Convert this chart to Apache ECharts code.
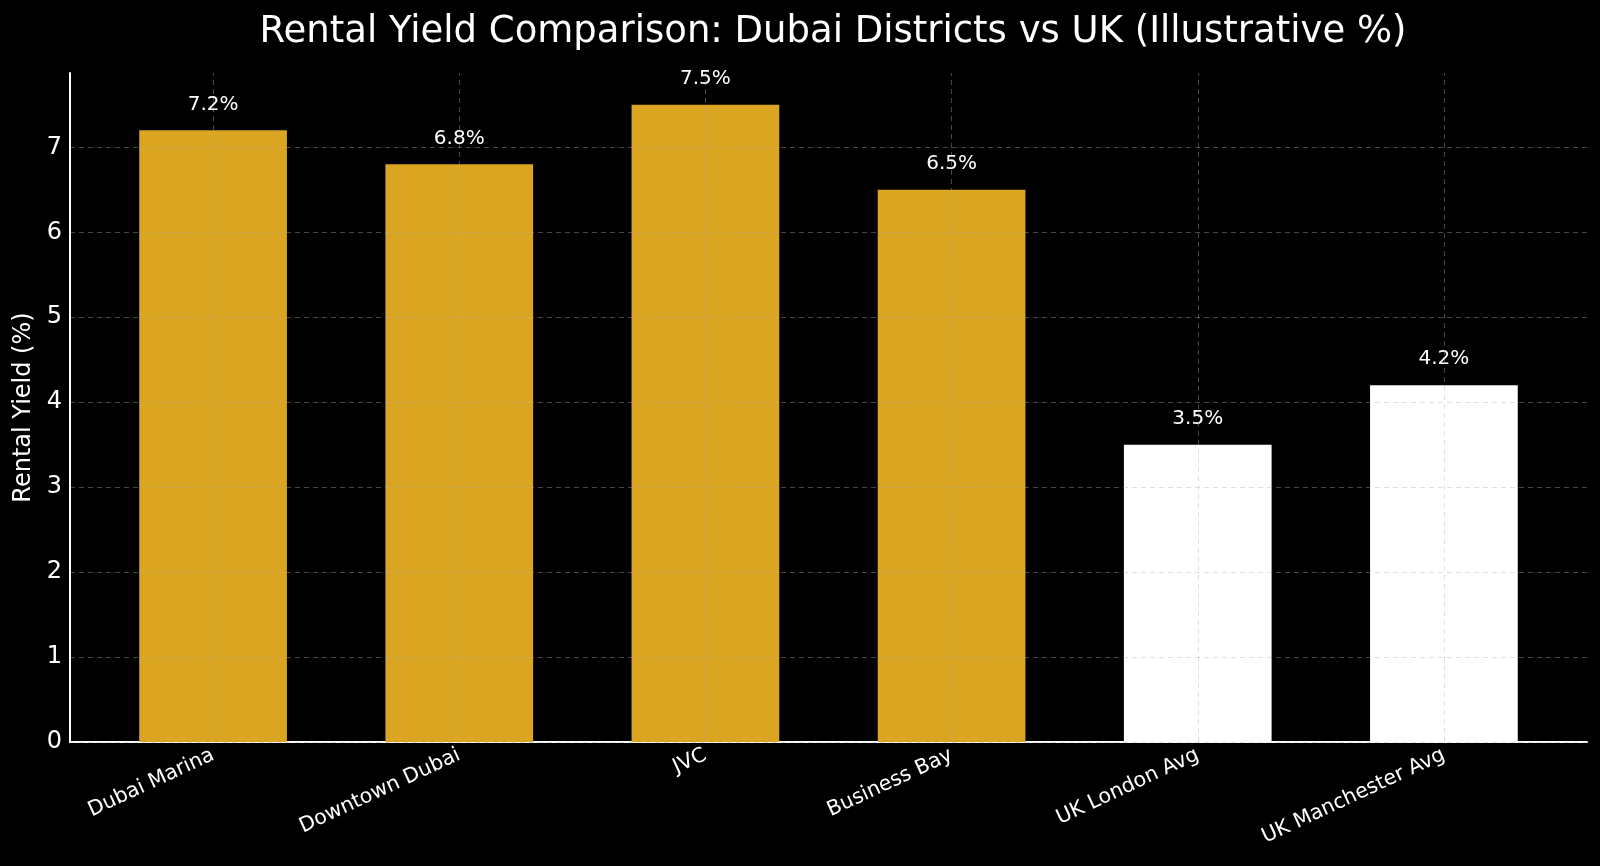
<!DOCTYPE html>
<html>
<head>
<meta charset="utf-8">
<script src="https://cdn.jsdelivr.net/npm/echarts@6/dist/echarts.min.js"></script>
<style>
  html, body { margin: 0; padding: 0; background: #000; }
  #chart { width: 1600px; height: 866px; }
</style>
</head>
<body>
<div id="chart"></div>
<script>
const categories = ["Dubai Marina", "Downtown Dubai", "JVC", "Business Bay", "UK London Avg", "UK Manchester Avg"];
const yields = [7.2, 6.8, 7.5, 6.5, 3.5, 4.2];
const regions = ["Dubai", "Dubai", "Dubai", "Dubai", "UK", "UK"];
const yTicks = [0, 1, 2, 3, 4, 5, 6, 7];

const chart = echarts.init(document.getElementById("chart"));

const font = "DejaVu Sans";
const gridColor = "rgba(176,176,176,0.4)";
const yMax = 7.875;

var option = {
  backgroundColor: "#000000",
  animation: false,
  textStyle: { fontFamily: font },
  title: {
    text: "Rental Yield Comparison: Dubai Districts vs UK (Illustrative %)",
    left: 828,
    textAlign: "center",
    top: 9,
    textStyle: { color: "#ffffff", fontSize: 37, fontWeight: "normal", fontFamily: font }
  },
  grid: [
    { left: 90, right: 33, top: 73, bottom: 124 },
    { left: 70, right: 13, top: 73, bottom: 124 }
  ],
  xAxis: [
    {
      type: "category",
      gridIndex: 0,
      data: categories,
      axisLine: { show: false },
      axisTick: { show: false },
      axisLabel: {
        color: "#ffffff",
        fontSize: 20.5,
        rotate: 25,
        margin: 12,
        fontFamily: font
      },
      splitLine: { show: false }
    },
    {
      type: "value",
      gridIndex: 1,
      min: 0,
      max: 1,
      axisLine: { show: true, lineStyle: { color: "#ffffff", width: 2 } },
      axisTick: { show: false },
      axisLabel: { show: false },
      splitLine: { show: false }
    }
  ],
  yAxis: [
    {
      type: "value",
      gridIndex: 0,
      min: 0,
      max: yMax,
      show: false
    },
    {
      type: "value",
      gridIndex: 1,
      min: 0,
      max: yMax,
      interval: 1,
      z: 5,
      name: "Rental Yield (%)",
      nameLocation: "middle",
      nameGap: 34,
      nameTextStyle: { color: "#ffffff", fontSize: 24, fontFamily: font },
      axisLine: { show: true, lineStyle: { color: "#ffffff", width: 2 } },
      axisTick: { show: false },
      axisLabel: {
        color: "#ffffff",
        fontSize: 24,
        margin: 8,
        fontFamily: font,
        formatter: function (v) { return yTicks.indexOf(v) >= 0 ? String(v) : ""; }
      },
      splitLine: {
        show: true,
        showMaxLine: false,
        lineStyle: { color: gridColor, type: [5, 4], width: 1 }
      }
    }
  ],
  series: [
    {
      type: "bar",
      xAxisIndex: 0,
      yAxisIndex: 0,
      barWidth: "60%",
      data: yields.map(function (v, i) {
        return {
          value: v,
          itemStyle: { color: regions[i] === "UK" ? "#ffffff" : "#DAA520" }
        };
      }),
      label: {
        show: true,
        position: "top",
        distance: 16,
        color: "#ffffff",
        fontSize: 20,
        fontFamily: font,
        formatter: function (p) { return p.value.toFixed(1) + "%"; }
      },
      markLine: {
        silent: true,
        symbol: "none",
        label: { show: false },
        lineStyle: { color: gridColor, type: [5, 4], width: 1 },
        data: categories.map(function (c) { return { xAxis: c }; })
      }
    }
  ]
};

chart.setOption(option, true);
</script>
</body>
</html>
